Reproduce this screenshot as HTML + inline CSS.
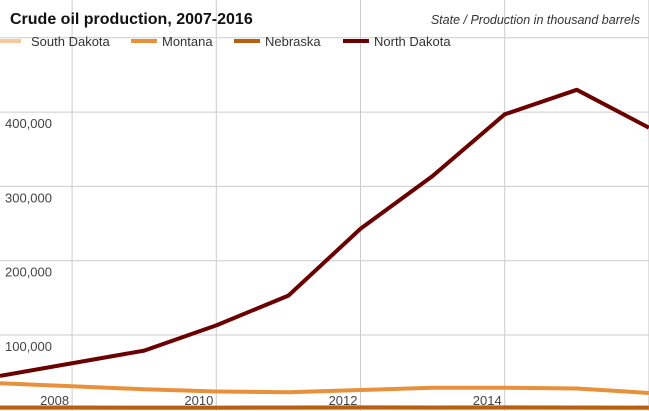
<!DOCTYPE html>
<html><head><meta charset="utf-8"><style>
body{margin:0;background:#fff;font-family:"Liberation Sans",Arial,sans-serif}
svg{display:block}
</style></head><body>
<svg id="c" width="649" height="411" xmlns="http://www.w3.org/2000/svg">
<g id="grid"></g><g id="lines"></g><g id="labels"></g>
<text x="10" y="24" font-size="16" font-weight="bold" fill="#111">Crude oil production, 2007-2016</text>
<text x="640" y="24" font-size="12.5" font-style="italic" fill="#333" text-anchor="end">State / Production in thousand barrels</text>
<g id="legend"></g>
</svg>
<script>
const years=[2007,2008,2009,2010,2011,2012,2013,2014,2015,2016];
const northDakota=[45000,62000,79000,113000,153000,243000,314000,397000,430000,379000];
const montana=[35000,31000,27000,24000,23000,26000,29000,29000,28000,22000];
const nebraska=[2500,2400,2300,2300,2500,2600,2500,2600,2500,2300];
const southDakota=[1600,1600,1500,1500,1600,1700,1600,1700,1500,1400];
const yTicks=[100000,200000,300000,400000,500000];
const xTickYears=[2008,2010,2012,2014,2016];
const series=[["South Dakota",southDakota,"#f6c89b"],["Montana",montana,"#e8913a"],["Nebraska",nebraska,"#b8600f"],["North Dakota",northDakota,"#6b0000"]];
const NS="http://www.w3.org/2000/svg";
const x=v=>(v-2007)*72.1;
const y=v=>409.3-v*0.000743;
function mk(t,a,p){const e=document.createElementNS(NS,t);for(const k in a)e.setAttribute(k,a[k]);p.appendChild(e);return e;}
const g=document.getElementById('grid'),L=document.getElementById('lines'),T=document.getElementById('labels'),lg=document.getElementById('legend');
yTicks.forEach(v=>{const l=mk('line',{x1:0,x2:649,y1:y(v),y2:y(v),stroke:'#ccc','stroke-width':1},g);


if(v<500000){const t=mk('text',{x:5,y:y(v)+16,'font-size':13,fill:'#444'},T);t.textContent=v.toLocaleString('en-US');

}});
xTickYears.forEach(v=>{const l=mk('line',{x1:x(v),x2:x(v),y1:0,y2:411,stroke:'#ccc','stroke-width':1},g);


if(v<2016){const t=mk('text',{x:x(v)-3,y:405,'font-size':13,fill:'#444','text-anchor':'end'},T);t.textContent=v;

}});
series.forEach(([n,d,c])=>{const p=mk('polyline',{points:d.map((v,i)=>x(years[i])+','+y(v)).join(' '),fill:'none',stroke:c,'stroke-width':4,'stroke-linejoin':'round'},L);

});
const lx=[0,131,234,343];
series.forEach(([n,d,c],i)=>{const s=mk('rect',{x:lx[i]-(i==0?5:0),y:39,width:i==0?26:26,height:4,fill:c},lg);


const t=mk('text',{x:lx[i]+31,y:46,'font-size':13,fill:'#333'},lg);t.textContent=n;

});
</script>
</body></html>
